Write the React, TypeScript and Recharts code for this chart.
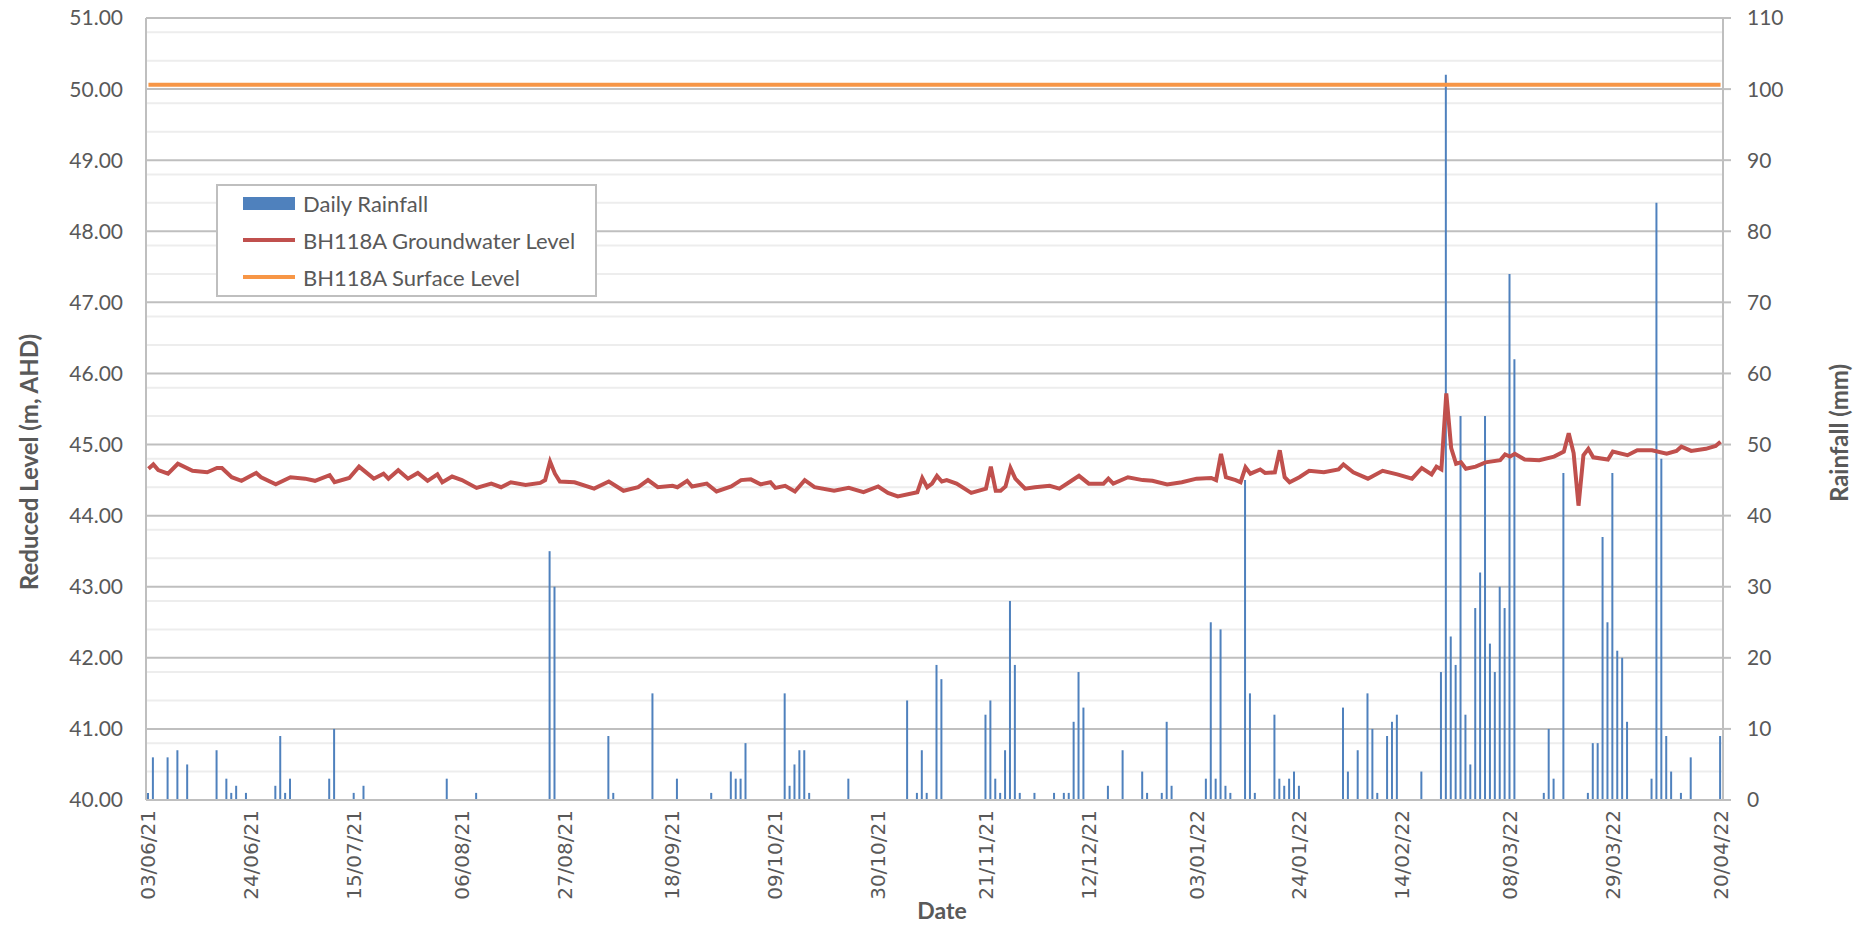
import React from 'react';
import {
  ComposedChart,
  Bar,
  Line,
  XAxis,
  YAxis,
  CartesianGrid,
  Legend,
} from 'recharts';

// x axis tick labels (dd/mm/yy)
const xTickLabels = [
  '03/06/21', '24/06/21', '15/07/21', '06/08/21', '27/08/21', '18/09/21',
  '09/10/21', '30/10/21', '21/11/21', '12/12/21', '03/01/22', '24/01/22',
  '14/02/22', '08/03/22', '29/03/22', '20/04/22',
];

// [days since 03/06/21, daily rainfall mm]
const rainfall: [number, number][] = [
  [0, 1], [1, 6], [4, 6], [6, 7], [8, 5], [14, 7], [16, 3], [17, 1], [18, 2], [20, 1],
  [26, 2], [27, 9], [28, 1], [29, 3], [37, 3], [38, 10], [42, 1], [44, 2],
  [61, 3], [67, 1], [82, 35], [83, 30], [94, 9], [95, 1], [103, 15],
  [108, 3], [115, 1], [119, 4], [120, 3], [121, 3], [122, 8], [130, 15], [131, 2],
  [132, 5], [133, 7], [134, 7], [135, 1], [143, 3], [155, 14], [157, 1], [158, 7],
  [159, 1], [161, 19], [162, 17], [171, 12], [172, 14], [173, 3], [174, 1], [175, 7],
  [176, 28], [177, 19], [178, 1], [181, 1], [185, 1], [187, 1], [188, 1], [189, 11],
  [190, 18], [191, 13], [196, 2], [199, 7], [203, 4], [204, 1], [207, 1], [208, 11],
  [209, 2], [216, 3], [217, 25], [218, 3], [219, 24], [220, 2], [221, 1], [224, 45],
  [225, 15], [226, 1], [230, 12], [231, 3], [232, 2], [233, 3], [234, 4], [235, 2],
  [244, 13], [245, 4], [247, 7], [249, 15], [250, 10], [251, 1], [253, 9], [254, 11],
  [255, 12], [260, 4], [264, 18], [265, 102], [266, 23], [267, 19], [268, 54], [269, 12],
  [270, 5], [271, 27], [272, 32], [273, 54], [274, 22], [275, 18], [276, 30], [277, 27],
  [278, 74], [279, 62], [285, 1], [286, 10], [287, 3], [289, 46], [294, 1], [295, 8],
  [296, 8], [297, 37], [298, 25], [299, 46], [300, 21], [301, 20], [302, 11], [307, 3],
  [308, 84], [309, 48], [310, 9], [311, 4], [313, 1], [315, 6], [321, 9],
];

// [days since 03/06/21, groundwater level m AHD]
const groundwaterLevel: [number, number][] = [
  [0, 44.66], [1, 44.72], [2, 44.64], [4, 44.59], [6, 44.73], [9, 44.63], [12, 44.61],
  [14, 44.67], [15, 44.67], [17, 44.54], [19, 44.49], [22, 44.6], [23, 44.54], [26, 44.44],
  [29, 44.54], [32, 44.52], [34, 44.49], [37, 44.57], [38, 44.47], [41, 44.53], [43, 44.69],
  [46, 44.52], [48, 44.59], [49, 44.52], [51, 44.64], [53, 44.52], [55, 44.6], [57, 44.49],
  [59, 44.58], [60, 44.47], [62, 44.55], [64, 44.5], [67, 44.39], [70, 44.45], [72, 44.4],
  [74, 44.47], [77, 44.43], [80, 44.46], [81, 44.5], [82, 44.76], [83, 44.59], [84, 44.48],
  [87, 44.47], [91, 44.38], [94, 44.48], [97, 44.35], [100, 44.4], [102, 44.5], [104, 44.4],
  [107, 44.42], [108, 44.4], [110, 44.49], [111, 44.41], [114, 44.45], [116, 44.34],
  [119, 44.41], [121, 44.5], [123, 44.51], [125, 44.44], [127, 44.47], [128, 44.39],
  [130, 44.42], [132, 44.34], [134, 44.5], [136, 44.4], [140, 44.35], [143, 44.39],
  [146, 44.33], [149, 44.41], [151, 44.32], [153, 44.27], [157, 44.33], [158, 44.53],
  [159, 44.4], [160, 44.45], [161, 44.56], [162, 44.48], [163, 44.5], [165, 44.45],
  [168, 44.32], [171, 44.38], [172, 44.69], [173, 44.35], [174, 44.35], [175, 44.41],
  [176, 44.67], [177, 44.52], [179, 44.38], [181, 44.4], [184, 44.42], [186, 44.38],
  [188, 44.47], [190, 44.56], [192, 44.45], [195, 44.45], [196, 44.52], [197, 44.45],
  [200, 44.54], [203, 44.5], [205, 44.49], [208, 44.44], [211, 44.47], [214, 44.52],
  [217, 44.53], [218, 44.5], [219, 44.87], [220, 44.54], [222, 44.5], [223, 44.47],
  [224, 44.68], [225, 44.59], [227, 44.65], [228, 44.6], [230, 44.61], [231, 44.92],
  [232, 44.54], [233, 44.47], [235, 44.54], [237, 44.63], [240, 44.61], [243, 44.65],
  [244, 44.72], [246, 44.61], [249, 44.52], [252, 44.63], [255, 44.58], [258, 44.52],
  [260, 44.67], [262, 44.58], [263, 44.69], [264, 44.65], [265, 45.72], [266, 44.95],
  [267, 44.73], [268, 44.75], [269, 44.66], [271, 44.69], [273, 44.75], [276, 44.78],
  [277, 44.86], [278, 44.83], [279, 44.87], [281, 44.79], [284, 44.78], [287, 44.83],
  [289, 44.9], [290, 45.16], [291, 44.88], [292, 44.14], [293, 44.85], [294, 44.94],
  [295, 44.82], [298, 44.79], [299, 44.9], [302, 44.85], [304, 44.92], [307, 44.92],
  [310, 44.87], [312, 44.91], [313, 44.97], [315, 44.91], [318, 44.94], [320, 44.98],
  [321, 45.04],
];

const surfaceLevel = 50.06;

const levelTicks = [40, 41, 42, 43, 44, 45, 46, 47, 48, 49, 50, 51];
const rainTicks = [0, 10, 20, 30, 40, 50, 60, 70, 80, 90, 100, 110];

const DAY_COUNT = 322;
const FONT = 'Lato, "Open Sans", sans-serif';
const TEXT = '#595959';
const AXIS = '#BFBFBF';

const pad = (n: number) => String(n).padStart(2, '0');
const dayLabel = (i: number) => {
  const d = new Date(Date.UTC(2021, 5, 3 + i));
  return `${pad(d.getUTCDate())}/${pad(d.getUTCMonth() + 1)}/${pad(d.getUTCFullYear() % 100)}`;
};

const rainByDay = new Map(rainfall);
const levelByDay = new Map(groundwaterLevel);

const chartData = Array.from({ length: DAY_COUNT }, (_, i) => ({
  date: dayLabel(i),
  rain: rainByDay.get(i) ?? null,
  level: levelByDay.get(i) ?? null,
  surface: surfaceLevel,
}));

// minor gridlines every 0.2 m
const minorGrid = Array.from({ length: 55 }, (_, k) => k)
  .filter((k) => k % 5 !== 0)
  .map((k) => +(40 + k * 0.2).toFixed(1));

const XTick = ({ x, y, payload }: any) => (
  <text
    transform={`translate(${x},${y + 2}) rotate(-90)`}
    textAnchor="end"
    dominantBaseline="central"
    fill={TEXT}
    fontSize={20}
    fontFamily='"DejaVu Sans", Verdana, sans-serif'
  >
    {payload.value}
  </text>
);

const LeftTitle = ({ viewBox }: any) => {
  const cx = viewBox.x + 28;
  const cy = viewBox.y + 444;
  return (
    <text
      x={cx}
      y={cy}
      transform={`rotate(-90, ${cx}, ${cy})`}
      textAnchor="middle"
      dominantBaseline="central"
      fill={TEXT}
      fontSize={24}
      fontWeight="bold"
      fontFamily={FONT}
    >
      Reduced Level (m, AHD)
    </text>
  );
};

const RightTitle = ({ viewBox }: any) => {
  const cx = viewBox.x + 115;
  const cy = viewBox.y + 415;
  return (
    <text
      x={cx}
      y={cy}
      transform={`rotate(-90, ${cx}, ${cy})`}
      textAnchor="middle"
      dominantBaseline="central"
      fill={TEXT}
      fontSize={24}
      fontWeight="bold"
      fontFamily={FONT}
    >
      Rainfall (mm)
    </text>
  );
};

const DateTitle = ({ viewBox }: any) => (
  <text
    x={viewBox.x + 796}
    y={viewBox.y + 110}
    textAnchor="middle"
    dominantBaseline="central"
    fill={TEXT}
    fontSize={23}
    fontWeight="bold"
    fontFamily={FONT}
  >
    Date
  </text>
);

const legendItems = [
  { label: 'Daily Rainfall', color: '#4F81BD', kind: 'bar' },
  { label: 'BH118A Groundwater Level', color: '#C0504D', kind: 'line' },
  { label: 'BH118A Surface Level', color: '#F79646', kind: 'line' },
];

const LegendBox = () => (
  <div
    style={{
      position: 'relative',
      width: 381,
      height: 113,
      boxSizing: 'border-box',
      border: `2px solid ${AXIS}`,
      background: '#fff',
      fontFamily: FONT,
      fontSize: 22,
      color: TEXT,
    }}
  >
    {legendItems.map((item, i) => (
      <div
        key={item.label}
        style={{
          position: 'absolute',
          left: 25,
          top: 17 + i * 37 - 16,
          height: 32,
          display: 'flex',
          alignItems: 'center',
          whiteSpace: 'nowrap',
        }}
      >
        <span
          style={{
            display: 'inline-block',
            width: 52,
            height: item.kind === 'bar' ? 13 : 4,
            background: item.color,
            marginRight: 8,
          }}
        />
        {item.label}
      </div>
    ))}
  </div>
);

export default function App() {
  return (
    <div style={{ position: 'absolute', left: 0, top: 0, background: '#fff' }}>
      <ComposedChart
        width={1863}
        height={929}
        data={chartData}
        margin={{ top: 18, right: 0, bottom: 0, left: 0 }}
      >
        <CartesianGrid
          yAxisId="level"
          vertical={false}
          horizontalValues={minorGrid}
          stroke="#EDEDED"
          strokeWidth={2}
        />
        <CartesianGrid
          yAxisId="level"
          vertical={false}
          horizontalValues={levelTicks}
          stroke={AXIS}
          strokeWidth={2}
        />
        <XAxis
          dataKey="date"
          type="category"
          ticks={xTickLabels}
          interval={0}
          tick={<XTick />}
          tickLine={false}
          axisLine={{ stroke: AXIS, strokeWidth: 2 }}
          height={129}
          label={<DateTitle />}
        />
        <YAxis
          yAxisId="level"
          orientation="left"
          type="number"
          domain={[40, 51]}
          ticks={levelTicks}
          allowDataOverflow
          width={146}
          tickFormatter={(v: number) => v.toFixed(2)}
          tick={{ fill: TEXT, fontSize: 21, fontFamily: FONT }}
          tickLine={false}
          tickSize={0}
          tickMargin={23}
          axisLine={{ stroke: AXIS, strokeWidth: 2 }}
          label={<LeftTitle />}
        />
        <YAxis
          yAxisId="rain"
          orientation="right"
          type="number"
          domain={[0, 110]}
          ticks={rainTicks}
          allowDataOverflow
          width={140}
          tick={{ fill: TEXT, fontSize: 21, fontFamily: FONT }}
          tickLine={{ stroke: AXIS, strokeWidth: 2 }}
          tickSize={8}
          tickMargin={16}
          axisLine={{ stroke: AXIS, strokeWidth: 2 }}
          label={<RightTitle />}
        />
        <Legend
          layout="vertical"
          align="center"
          verticalAlign="middle"
          content={<LegendBox />}
          wrapperStyle={{ position: 'absolute', left: 216, top: 184, width: 381, height: 113 }}
        />
        <Bar
          yAxisId="rain"
          dataKey="rain"
          name="Daily Rainfall"
          fill="#4F81BD"
          barSize={2}
          isAnimationActive={false}
        />
        <Line
          yAxisId="level"
          dataKey="level"
          name="BH118A Groundwater Level"
          stroke="#C0504D"
          strokeWidth={4}
          dot={false}
          connectNulls
          isAnimationActive={false}
        />
        <Line
          yAxisId="level"
          dataKey="surface"
          name="BH118A Surface Level"
          stroke="#F79646"
          strokeWidth={4}
          dot={false}
          isAnimationActive={false}
        />
      </ComposedChart>
    </div>
  );
}
